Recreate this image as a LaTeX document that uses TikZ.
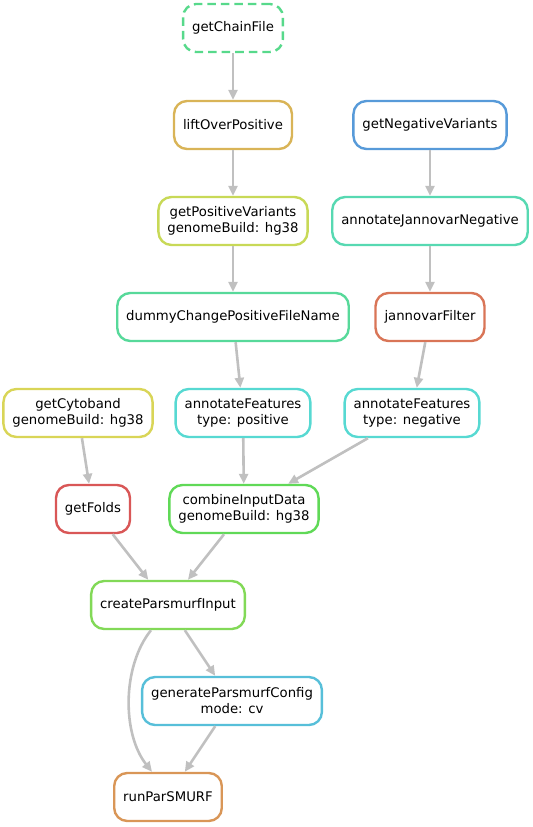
\documentclass[tikz,border=0pt]{standalone}
\usepackage{fontspec}
\setmainfont{DejaVu Sans}
\usetikzlibrary{arrows.meta}

% rule colours (hue varies, saturation 0.6, value 0.85)
\definecolor{cChain}{RGB}{87,217,139}
\definecolor{cLift}{RGB}{217,180,87}
\definecolor{cNegVar}{RGB}{87,154,217}
\definecolor{cPosVar}{RGB}{200,217,87}
\definecolor{cJannNeg}{RGB}{87,217,178}
\definecolor{cDummy}{RGB}{87,217,154}
\definecolor{cJannFilt}{RGB}{217,117,87}
\definecolor{cCyto}{RGB}{217,213,87}
\definecolor{cAnnot}{RGB}{87,217,210}
\definecolor{cFolds}{RGB}{217,87,87}
\definecolor{cCombine}{RGB}{96,217,87}
\definecolor{cCreate}{RGB}{130,217,87}
\definecolor{cConfig}{RGB}{87,191,217}
\definecolor{cRun}{RGB}{217,150,87}
\definecolor{edgegrey}{RGB}{192,192,192}

\begin{document}
\begin{tikzpicture}[x=1bp,y=-1bp,
  job/.style={draw=#1, line width=2.4bp, rounded corners=13bp, fill=white,
    minimum height=48bp, inner xsep=9bp, inner ysep=2bp, align=center,
    font=\fontsize{13.3}{16}\selectfont},
  dep/.style={draw=edgegrey, line width=2.6bp,
    -{Triangle[length=10bp,width=9bp]}}]
\useasboundingbox (0,0) rectangle (533,827);

% rules
\node[job=cChain, dash pattern=on 8.5bp off 5bp] (chain) at (233,28) {getChainFile};
\node[job=cLift]     (lift)    at (233,125) {liftOverPositive};
\node[job=cNegVar]   (negvar)  at (430,125) {getNegativeVariants};
\node[job=cPosVar]   (posvar)  at (233,221) {getPositiveVariants\\genomeBuild: hg38};
\node[job=cJannNeg]  (jannneg) at (430,221) {annotateJannovarNegative};
\node[job=cDummy]    (dummy)   at (233,317) {dummyChangePositiveFileName};
\node[job=cJannFilt] (jfilt)   at (430,317) {jannovarFilter};
\node[job=cCyto]     (cyto)    at (78,413)  {getCytoband\\genomeBuild: hg38};
\node[job=cAnnot]    (annpos)  at (243,413) {annotateFeatures\\type: positive};
\node[job=cAnnot]    (annneg)  at (412,413) {annotateFeatures\\type: negative};
\node[job=cFolds]    (folds)   at (93,509)  {getFolds};
\node[job=cCombine]  (combine) at (244,509) {combineInputData\\genomeBuild: hg38};
\node[job=cCreate]   (create)  at (168,605) {createParsmurfInput};
\node[job=cConfig]   (config)  at (232,701) {generateParsmurfConfig\\mode: cv};
\node[job=cRun]      (run)     at (168,797) {runParSMURF};

% dependencies
\draw[dep] (chain) -- (lift);
\draw[dep] (lift) -- (posvar);
\draw[dep] (posvar) -- (dummy);
\draw[dep] (dummy) -- (annpos);
\draw[dep] (negvar) -- (jannneg);
\draw[dep] (jannneg) -- (jfilt);
\draw[dep] (jfilt) -- (annneg);
\draw[dep] (annpos) -- (combine);
\draw[dep] (annneg) -- (combine);
\draw[dep] (cyto) -- (folds);
\draw[dep] (folds) -- (create);
\draw[dep] (combine) -- (create);
\draw[dep] (create) -- (config);
\draw[dep] (config) -- (run);
\draw[dep] ([xshift=-17bp]create.south) .. controls +(-29,36) and +(-30,-38) .. ([xshift=-16bp]run.north);
\end{tikzpicture}
\end{document}
